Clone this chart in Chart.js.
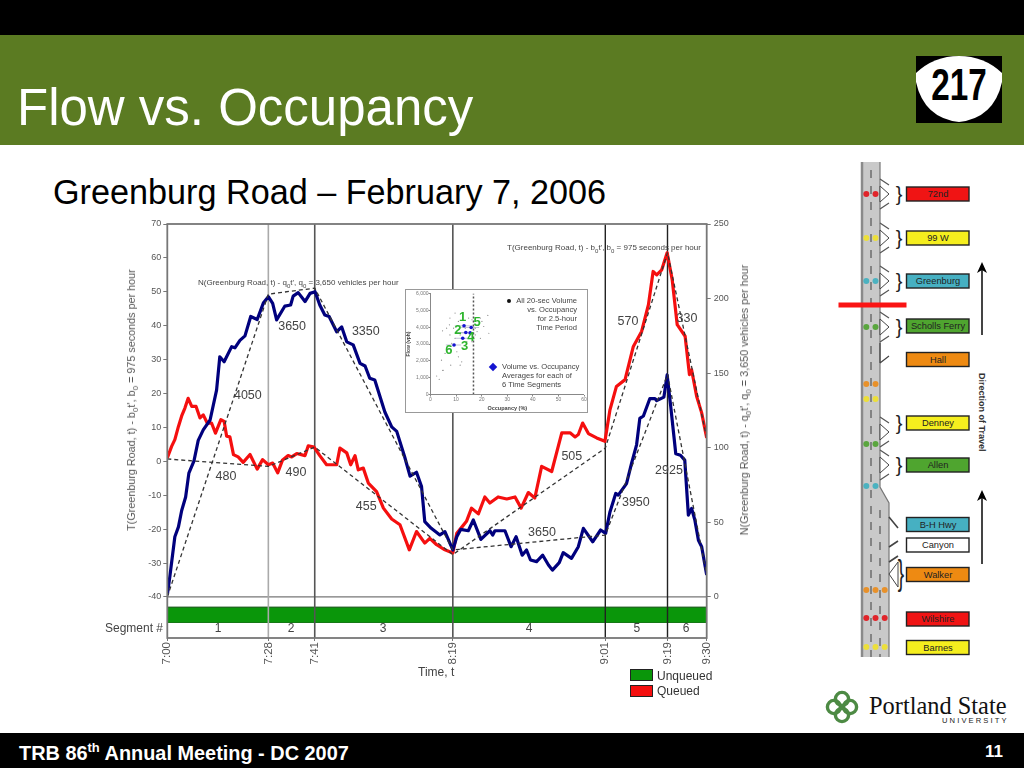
<!DOCTYPE html>
<html>
<head>
<meta charset="utf-8">
<title>Flow vs. Occupancy</title>
<script src="https://cdn.jsdelivr.net/npm/chart.js@4"></script>
<style>
html, body { margin: 0; padding: 0; background: #fff; }
#slide { position: relative; width: 1024px; height: 768px; overflow: hidden; font-family: "Liberation Sans", Arial, sans-serif; }
.abs { position: absolute; white-space: nowrap; }
.rot { transform: translate(-50%, -50%) rotate(-90deg); }
sub { font-size: 75%; line-height: 0; }
sup { font-size: 65%; line-height: 0; }
#top { left: 0; top: 0; width: 1024px; height: 35px; background: #000; }
#head { left: 0; top: 35px; width: 1024px; height: 110px; background: #5b7b22; }
#foot { left: 0; top: 733px; width: 1024px; height: 35px; background: #000; }
#title { left: 17px; top: 78px; font-size: 51px; line-height: 60px; color: #fff; }
#subtitle { left: 53px; top: 172px; font-size: 34.2px; line-height: 40px; color: #000; }
#footText { left: 19px; top: 742px; font-size: 19.9px; line-height: 22px; font-weight: bold; color: #fff; }
#pageNo { left: 985px; top: 742px; font-size: 17px; line-height: 20px; font-weight: bold; color: #fff; }
#art { position: absolute; left: 0; top: 0; }
#mainBox { position: absolute; left: 100px; top: 210px; width: 680px; height: 470px; }
#insetBox { position: absolute; left: 405px; top: 289px; width: 183px; height: 124px; background: #fff; }
.axisT { font-size: 10.8px; color: #555; }
.small { font-size: 8px; color: #444; }
.insetT { font-size: 7.6px; line-height: 9px; color: #444; }
.swatch { border: 1px solid #222; box-sizing: border-box; width: 23px; height: 12px; }
.legT { font-size: 12px; color: #333; }
</style>
</head>
<body>
<div id="slide">
  <div class="abs" id="top"></div>
  <div class="abs" id="head"></div>
  <div class="abs" id="foot"></div>
  <div class="abs" id="title">Flow vs. Occupancy</div>
  <div class="abs" id="subtitle">Greenburg Road – February 7, 2006</div>
  <div class="abs" id="footText">TRB 86<sup>th</sup> Annual Meeting - DC 2007</div>
  <div class="abs" id="pageNo">11</div>
  <svg id="art" width="1024" height="768"></svg>
  <div id="mainBox"><canvas id="mainChart"></canvas></div>
  <div class="abs axisT rot" style="left:131px;top:400px">T(Greenburg Road, t) - b<sub>0</sub>t', b<sub>0</sub> = 975 seconds per hour</div>
  <div class="abs axisT rot" style="left:744px;top:400px">N(Greenburg Road, t) - q<sub>0</sub>t', q<sub>0</sub> = 3,650 vehicles per hour</div>
  <div class="abs small" style="left:198px;top:278px">N(Greenburg Road, t) - q<sub>0</sub>t', q<sub>0</sub> = 3,650 vehicles per hour</div>
  <div class="abs small" style="left:507px;top:243px">T(Greenburg Road, t) - b<sub>0</sub>t', b<sub>0</sub> = 975 seconds per hour</div>
  <div class="abs" style="left:418px;top:665px;font-size:12px;color:#444">Time, t</div>
  <div class="abs swatch" style="left:630px;top:669px;background:#0a960a"></div>
  <div class="abs swatch" style="left:630px;top:685px;background:#f50f0f"></div>
  <div class="abs legT" style="left:657px;top:669px">Unqueued</div>
  <div class="abs legT" style="left:657px;top:684px">Queued</div>
  <div id="insetBox" style="border:1.5px solid #999;box-sizing:border-box"><canvas id="insetChart"></canvas></div>
  <div class="abs insetT" style="left:513px;top:296px;width:64px;text-align:right">All 20-sec Volume<br>vs. Occupancy<br>for 2.5-hour<br>Time Period</div>
  <div class="abs" style="left:507px;top:299px;width:4px;height:4px;background:#111;border-radius:2px"></div>
  <div class="abs insetT" style="left:502px;top:362px">Volume vs. Occupancy<br>Averages for each of<br>6 Time Segments</div>
  <div class="abs" style="left:490px;top:364px;width:6px;height:6px;background:#1414d0;transform:rotate(45deg)"></div>
</div>
<script>
// time axis, minutes after 7:00
const tickMinutes = [0, 28.1, 41, 79.4, 121.8, 139.1, 150];
const tickLabels = ["7:00", "7:28", "7:41", "8:19", "9:01", "9:19", "9:30"];
const leftTicks = [-40, -30, -20, -10, 0, 10, 20, 30, 40, 50, 60, 70];
const rightTicks = [0, 50, 100, 150, 200, 250];

// T(x,t) - b0t', left axis
const redTimes = [0, 1.2, 2.1, 3.1, 4, 4.9, 5.8, 6.8, 8, 9.1, 10, 11.1, 12.3, 13.4, 14.9, 15.8, 16.5, 17.4, 18.4, 19.7, 21.1, 23, 25, 26.5, 28.1, 29.3, 30.7, 32, 33.6, 34.6, 36, 38.3, 39.2, 40.8, 42.4, 44.3, 47.1, 48, 49.9, 51, 52.2, 53.1, 54.5, 55.9, 58.2, 60.1, 62.4, 64.7, 67.3, 69.3, 71.6, 73, 74.9, 77.2, 79.4, 80.5, 81.9, 83.2, 84.6, 86.5, 88.3, 89.7, 92, 94.4, 96.7, 98.4, 100.4, 102.2, 104.1, 106.9, 109.7, 112, 113.4, 114.3, 115.5, 117.1, 119.4, 121.7, 123.1, 124.9, 127.3, 129.6, 131.9, 133.8, 135.1, 136.1, 137.5, 139, 140.4, 141.8, 144, 145.2, 145.8, 147.2, 148.6, 150];
const redValues = [1, 4.4, 6.4, 10.3, 13.4, 15.7, 18.6, 16.2, 16.2, 12.8, 13.7, 11.3, 11.3, 8.3, 12.3, 11.8, 7.4, 7.2, 2, 1.3, -0.3, 2, -2.3, 0.5, -1, -0.5, -3.4, 0.3, 1.7, 1.3, 2.3, 1.7, 4.6, 4.2, 1.7, -1, -1, 3.9, 2.5, -1, 1.7, -2.5, -2, -6.4, -8.9, -13.8, -17, -18.7, -26.1, -20.7, -24.1, -22.7, -24.6, -26.1, -27, -21.2, -19.4, -17.7, -13.8, -15.5, -10.5, -12.3, -10.5, -11.1, -10.5, -13.8, -9.2, -10.8, -1.5, -3, 8.4, 8.4, 7.2, 7.9, 11.3, 8.2, 6.9, 5.9, 15.2, 22.1, 24.1, 33.9, 38.3, 46.2, 56, 55, 56.5, 61.5, 53.6, 40.3, 36.9, 25.6, 27, 19.2, 14.3, 6.9];

// N(x,t) - q0t', right axis
const blueTimes = [0, 0.7, 2.1, 3.1, 4, 5.1, 6, 7.4, 8.6, 10, 11.9, 13.7, 14.6, 15.8, 17.9, 18.8, 20.2, 21.6, 23.2, 25, 26.7, 28.1, 29.3, 30.4, 32.7, 34.3, 35, 36.4, 38.3, 39.7, 41.1, 42.4, 43.8, 45, 47.1, 48.5, 49.9, 51.7, 53.6, 55, 56.3, 57.7, 60.5, 62.4, 63.8, 66, 67.5, 69.3, 70.7, 71.6, 73.4, 75.8, 77.2, 79.4, 80.5, 81.6, 83.7, 85.1, 87.2, 89.7, 90.5, 91.1, 93.9, 95.6, 97, 98.7, 99.9, 101, 102.7, 104.4, 106, 107.1, 109, 110.1, 112.4, 114.3, 115.7, 118.3, 120.5, 121.9, 123.1, 124.7, 125.4, 127.7, 129.1, 130.5, 131.4, 132.4, 134.2, 135.6, 136.1, 138.1, 139, 140, 141.4, 142.7, 143.9, 144.9, 145.8, 146.7, 147.7, 148.6, 150];
const blueValues = [1.3, 13.6, 40.4, 47, 58, 67, 83, 91, 105, 112, 118.6, 138.7, 161, 157.7, 167.8, 167, 172, 175, 188, 186, 197, 201.3, 196.8, 185.7, 195, 195.7, 201.7, 204, 198, 203.5, 204.6, 195.7, 189, 188, 177.8, 181, 171, 169, 156.6, 154.8, 146.6, 145.4, 124, 114, 111, 94, 81, 83.6, 74, 50.5, 46, 41.6, 43.8, 31.5, 40.4, 45.3, 44.4, 51.6, 38.6, 44.4, 41.5, 44.4, 44.4, 33.7, 40.4, 28, 31.5, 24.8, 23.7, 28, 21.4, 18, 23, 29.7, 25.9, 33.7, 46, 37, 44.9, 42.6, 57, 69.4, 68.3, 76, 89.5, 102, 119.7, 121.3, 133, 133, 131.6, 134, 148.8, 127.6, 96, 95, 91.7, 54.9, 59.4, 51.6, 38, 33.7, 14.7];

// oblique reference lines through the segment breaks
const redFitValues = [0.7, -1.5, 4.2, -27.5, 3.9, 61.5, 6.9];
const blueFitValues = [0, 203, 207, 31.5, 41.5, 149, 14.7];

// flow labels, [text, minutes, left axis value]
const flowNotes = [["4050", 22.4, 19.4], ["3650", 34.7, 39.7], ["3350", 55.2, 38.3], ["480", 16.3, -4.5], ["490", 35.8, -3.3], ["455", 55.3, -13.4], ["3650", 104.2, -21], ["3950", 130.3, -12.2], ["505", 112.5, 1.4], ["570", 128.1, 41.2], ["330", 144.5, 42.1], ["2925", 139.5, -2.7]];
const segmentNames = ["1", "2", "3", "4", "5", "6"];
const segmentCentres = [14.1, 34.4, 60, 100.6, 130.6, 144.3];

// inset: all 20-sec samples
const sampleOcc = [2.4, 3.4, 4.7, 4.3, 5, 7.9, 9.6, 7.6, 6.3, 4.7, 7.4, 9, 10.3, 10.9, 11.6, 12.2, 14.9, 16.2, 19.5, 22.4, 22.8, 20.8, 19.5, 18.2, 17.5, 20.1, 8.3, 9.6, 10.9, 14.2, 13.6, 11.6, 16.2, 17.5, 7.6, 9, 5.7, 7];
const sampleFlow = [1100, 900, 1440, 2040, 1440, 1740, 4840, 4540, 3940, 3780, 4140, 2940, 2540, 2240, 1740, 1940, 4540, 4440, 4540, 4700, 3640, 4040, 3340, 3740, 3940, 4340, 3040, 3340, 4340, 3140, 3940, 3540, 3140, 3540, 3540, 3940, 2440, 2700];
// inset: segment averages, segments 1 to 6
const avgOcc = [13.1, 13.8, 12.6, 15.5, 15.9, 9.2];
const avgFlow = [4080, 3680, 3340, 3660, 3980, 2940];
const avgLabelOcc = [12.6, 10.7, 13.3, 15.8, 18.2, 7.2];
const avgLabelFlow = [4600, 3800, 2840, 3380, 4300, 2600];
// faint horizontal spread behind the averages
const spreadFrom = [9.5, 9.5, 9.5, 9.5, 12, 6];
const spreadTo = [17, 17, 17, 17, 19, 12];
const insetXTicks = [0, 10, 20, 30, 40, 50, 60];
const insetYTicks = [0, 1000, 2000, 3000, 4000, 5000, 6000];

const zip = (xs, ys) => xs.map((x, i) => ({ x, y: ys[i] }));
const setTicks = (values) => (scale) => { scale.ticks = values.map((value) => ({ value })); };
const FONT = "'Liberation Sans', Arial, sans-serif";

const makeLine = (data, yAxisID, color, width, extra) => ({
    data, yAxisID,
    borderColor: color,
    borderWidth: width,
    pointRadius: 0,
    tension: 0,
    fill: false,
    borderJoinStyle: "round",
    ...extra,
});

const dividerColors = ["#777", "#aaa", "#555", "#555", "#222", "#222", "#555"];
const leftMin = -52.1;
const rightMin = -27.5;

const mainDatasets = [
    makeLine(zip(tickMinutes, redFitValues), "yL", "#333", 1.3, { borderDash: [4, 3] }),
    makeLine(zip(tickMinutes, blueFitValues), "yR", "#333", 1.3, { borderDash: [4, 3] }),
    makeLine(zip(blueTimes, blueValues), "yR", "#00007d", 3.2),
    makeLine(zip(redTimes, redValues), "yL", "#f50f0f", 3.2),
    ...tickMinutes.slice(1, 6).map((m, i) => makeLine(zip([m, m], [leftMin, 70]), "yL", dividerColors[i + 1], i < 3 ? 1.6 : 1.4)),
    makeLine(zip([0, 150], [-40, -40]), "yL", "#777", 1.2),
    makeLine(zip([0, 150], [-43, -43]), "yL", "#064a06", 1, { fill: "+1", backgroundColor: "#0a960a" }),
    makeLine(zip([0, 150], [-47.5, -47.5]), "yL", "#064a06", 1),
];

const frameAndNotes = {
    id: "frameAndNotes",
    afterDraw(chart) {
        const { ctx, chartArea: a, scales } = chart;
        ctx.save();
        ctx.strokeStyle = "#777";
        ctx.lineWidth = 1.8;
        ctx.strokeRect(a.left, a.top, a.right - a.left, a.bottom - a.top);
        ctx.fillStyle = "#444";
        ctx.textAlign = "center";
        ctx.textBaseline = "middle";
        ctx.font = "12.5px " + FONT;
        flowNotes.forEach(([text, m, v]) => ctx.fillText(text, scales.x.getPixelForValue(m), scales.yL.getPixelForValue(v)));
        ctx.font = "12px " + FONT;
        const rowY = scales.yL.getPixelForValue(-49.4);
        segmentNames.forEach((text, i) => ctx.fillText(text, scales.x.getPixelForValue(segmentCentres[i]), rowY));
        ctx.textAlign = "right";
        ctx.fillText("Segment #", scales.x.getPixelForValue(-1.2), rowY);
        ctx.restore();
    },
};

new Chart(document.getElementById("mainChart"), {
    type: "line",
    data: { datasets: mainDatasets },
    plugins: [frameAndNotes],
    options: {
        responsive: true,
        maintainAspectRatio: false,
        animation: false,
        layout: { autoPadding: false, padding: { top: 14 } },
        plugins: { legend: { display: false }, tooltip: { enabled: false } },
        scales: {
            x: {
                type: "linear",
                min: 0,
                max: 150,
                afterBuildTicks: setTicks(tickMinutes),
                afterFit: (s) => { s.height = 42; },
                grid: { drawOnChartArea: false, color: "#777", tickLength: 3 },
                border: { display: false },
                ticks: {
                    autoSkip: false, maxRotation: 90, minRotation: 90, padding: 1,
                    color: "#555", font: { family: FONT, size: 11.5 },
                    callback: (v, i) => tickLabels[i],
                },
            },
            yL: {
                position: "left",
                min: leftMin,
                max: 70,
                afterBuildTicks: setTicks(leftTicks),
                afterFit: (s) => { s.width = 67.3; },
                grid: { drawOnChartArea: false, color: "#777", tickLength: 4 },
                border: { display: false },
                ticks: { autoSkip: false, padding: 2, color: "#555", font: { family: FONT, size: 9 } },
            },
            yR: {
                position: "right",
                min: rightMin,
                max: 250,
                afterBuildTicks: setTicks(rightTicks),
                afterFit: (s) => { s.width = 73.3; },
                grid: { drawOnChartArea: false, color: "#777", tickLength: 4 },
                border: { display: false },
                ticks: { autoSkip: false, padding: 3, color: "#555", font: { family: FONT, size: 9 } },
            },
        },
    },
});

// inset scatter
const insetFrameAndNames = {
    id: "insetFrameAndNames",
    afterDraw(chart) {
        const { ctx, chartArea: a, scales } = chart;
        ctx.save();
        ctx.strokeStyle = "#888";
        ctx.lineWidth = 1;
        ctx.beginPath();
        ctx.moveTo(a.left, a.top);
        ctx.lineTo(a.left, a.bottom);
        ctx.lineTo(a.right, a.bottom);
        ctx.stroke();
        ctx.fillStyle = "#2db52d";
        ctx.font = "bold 13px " + FONT;
        ctx.textAlign = "center";
        ctx.textBaseline = "middle";
        segmentNames.forEach((text, i) => ctx.fillText(text, scales.x.getPixelForValue(avgLabelOcc[i]), scales.y.getPixelForValue(avgLabelFlow[i])));
        ctx.restore();
    },
};

new Chart(document.getElementById("insetChart"), {
    type: "scatter",
    data: {
        datasets: [
            { data: zip(avgOcc, avgFlow), pointRadius: 1.8, pointBackgroundColor: "#1414d0", pointBorderWidth: 0 },
            { data: zip([16.8, 16.8], [0, 6000]), showLine: true, pointRadius: 0, borderColor: "#555", borderWidth: 1.5, borderDash: [2, 2] },
            ...avgFlow.map((f, i) => ({ data: zip([spreadFrom[i], spreadTo[i]], [f, f]), showLine: true, pointRadius: 0, borderColor: "#a8a8c4", borderWidth: 0.7 })),
            { data: zip(sampleOcc, sampleFlow), pointRadius: 0.6, pointBackgroundColor: "#888", pointBorderWidth: 0 },
        ],
    },
    plugins: [insetFrameAndNames],
    options: {
        responsive: true,
        maintainAspectRatio: false,
        animation: false,
        layout: { autoPadding: false, padding: { top: 3.5, right: 3 } },
        plugins: { legend: { display: false }, tooltip: { enabled: false } },
        scales: {
            x: {
                type: "linear",
                min: 0,
                max: 60,
                afterBuildTicks: setTicks(insetXTicks),
                afterFit: (s) => { s.height = 17.5; },
                grid: { drawOnChartArea: false, color: "#888", tickLength: 2 },
                border: { display: false },
                title: { display: true, text: "Occupancy (%)", color: "#444", padding: 0, font: { family: FONT, size: 5.5, weight: "bold" } },
                ticks: { autoSkip: false, maxRotation: 0, padding: 0, color: "#777", font: { family: FONT, size: 5 } },
            },
            y: {
                min: 0,
                max: 6000,
                afterBuildTicks: setTicks(insetYTicks),
                afterFit: (s) => { s.width = 24.5; },
                grid: { drawOnChartArea: false, color: "#888", tickLength: 2 },
                border: { display: false },
                title: { display: true, text: "Flow (vph)", color: "#444", padding: 0, font: { family: FONT, size: 5, weight: "bold" } },
                ticks: { autoSkip: false, padding: 0, color: "#777", font: { family: FONT, size: 5 } },
            },
        },
    },
});

// corridor schematic, logo and route shield, none of it chart data
const boxes = [
    ["72nd", 194, "#f01414"], ["99 W", 238, "#f5ee1e"], ["Greenburg", 281, "#46b0c2"], ["Scholls Ferry", 326, "#4fa52f"],
    ["Hall", 359.5, "#ee8a12"], ["Denney", 423, "#f5ee1e"], ["Allen", 465, "#4fa52f"], ["B-H Hwy", 524.5, "#46b0c2"],
    ["Canyon", 545, "#ffffff"], ["Walker", 574.5, "#ee8a12"], ["Wilshire", 619, "#f01414"], ["Barnes", 647.5, "#f5ee1e"],
];
const signalRows = [
    [194, "#e0242a", 2], [238, "#ecdf3a", 2], [281, "#4cb2c0", 2], [327, "#5aa63e", 2], [384, "#e8912a", 2], [399, "#ecdf3a", 2],
    [444, "#5aa63e", 2], [486, "#4cb2c0", 2], [590, "#e8912a", 3], [618, "#e0242a", 3], [647, "#ecdf3a", 3],
];
const rampRows = [194, 238, 281, 327, 432, 465];
const braceRows = [194, 238, 281, 327, 423, 465];

let art = "";
// route shield
art += `<rect x="916" y="56" width="86" height="67" fill="#000"/>`;
art += `<path d="M916,73 Q934,56 959,56 Q984,56 1002,73 L1002,82 Q994,118 959,122 Q924,118 916,82 Z" fill="#fff"/>`;
art += `<text transform="translate(959,100) scale(0.74,1)" text-anchor="middle" font-family="Liberation Sans" font-weight="bold" font-size="45" fill="#000">217</text>`;
// road
art += `<path d="M862,162 L880,162 L880,487 L889,503 L889,657 L862,657 Z" fill="#c9c9c9"/>`;
art += `<path d="M862,162 L862,657" stroke="#8a8a8a" stroke-width="2.5" fill="none"/>`;
art += `<path d="M880,162 L880,487 L889,503 L889,657" stroke="#777" stroke-width="1.2" fill="none"/>`;
art += `<path d="M871,170 L871,500" stroke="#666" stroke-width="1.4" stroke-dasharray="8,8" fill="none"/>`;
art += `<path d="M871,506 L871,657 M880,510 L880,657" stroke="#666" stroke-width="1.4" stroke-dasharray="8,8" fill="none"/>`;
rampRows.forEach((y) => {
    art += `<path d="M880,${y - 15} L889,${y - 9} M880,${y + 15} L889,${y + 9}" stroke="#555" stroke-width="1.2"/>`;
    art += `<path d="M880,${y - 8} L889,${y} L880,${y + 8} Z" fill="#fff" stroke="#444" stroke-width="1"/>`;
});
art += `<path d="M880,363 L889,356 M880,343 L880,363" stroke="#444" stroke-width="1.2" fill="none"/>`;
art += `<path d="M889,517 L898,528 M889,547 L898,541 M889,562 L898,556" stroke="#444" stroke-width="1.6" fill="none"/>`;
art += `<path d="M898,562 L889,574 L898,587 Z" fill="#fff" stroke="#444" stroke-width="1"/>`;
signalRows.forEach(([y, color, count]) => {
    for (let i = 0; i < count; i++) art += `<circle cx="${866.3 + i * 9.2}" cy="${y}" r="3" fill="${color}"/>`;
});
braceRows.forEach((y) => {
    art += `<text x="899" y="${y + 7}" text-anchor="middle" font-family="Liberation Sans" font-size="20" fill="#222">}</text>`;
});
art += `<text transform="translate(901,585) scale(0.8,1.5)" text-anchor="middle" font-family="Liberation Sans" font-size="24" fill="#222">}</text>`;
boxes.forEach(([name, y, color]) => {
    art += `<rect x="906.5" y="${y - 7}" width="62.5" height="14" fill="${color}" stroke="#222" stroke-width="1.4"/>`;
    art += `<text x="938" y="${y + 3.2}" text-anchor="middle" font-family="Liberation Sans" font-size="9.3" fill="#222">${name}</text>`;
});
art += `<rect x="838.5" y="302.5" width="68" height="5" fill="#fa1414"/>`;
[[335, 262], [564, 490]].forEach(([from, to]) => {
    art += `<path d="M982,${from} L982,${to + 8}" stroke="#444" stroke-width="2"/>`;
    art += `<path d="M982,${to} L987,${to + 11} L982,${to + 8} L977,${to + 11} Z" fill="#000"/>`;
});
art += `<text transform="translate(979,373) rotate(90)" font-family="Liberation Sans" font-size="9" font-weight="bold" fill="#333">Direction of Travel</text>`;
// logo
[[834, 707], [850, 707], [842, 699], [842, 715]].forEach(([x, y]) => {
    art += `<circle cx="${x}" cy="${y}" r="6.6" fill="none" stroke="#4d8a44" stroke-width="3.4"/>`;
});
art += `<text x="869" y="714" font-family="Liberation Serif" font-size="24.4" fill="#111">Portland State</text>`;
art += `<text x="942" y="723" font-family="Liberation Sans" font-size="7.6" letter-spacing="2.1" fill="#222">UNIVERSITY</text>`;
document.getElementById("art").innerHTML = art;
</script>
</body>
</html>
